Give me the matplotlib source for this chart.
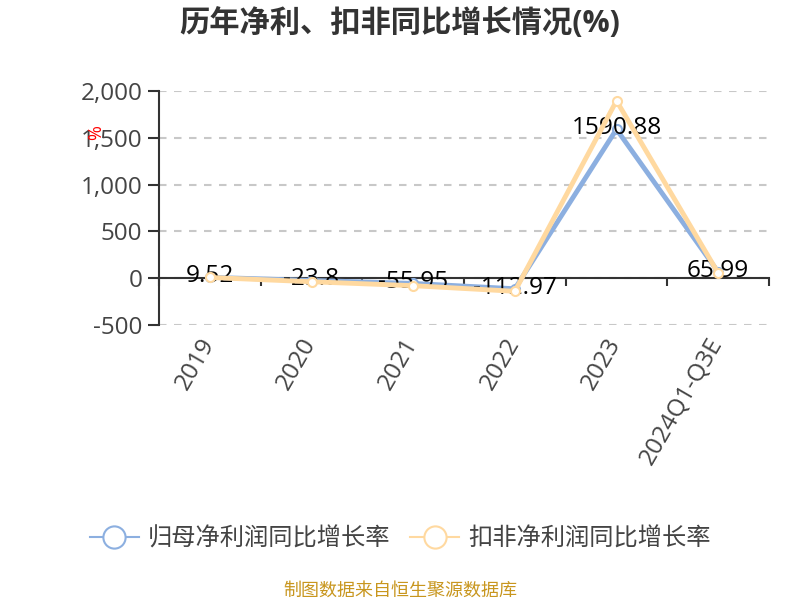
import matplotlib
matplotlib.use("Agg")
import matplotlib.pyplot as plt
from matplotlib.lines import Line2D
from matplotlib.transforms import ScaledTranslation

plt.rcParams['font.family'] = ['Open Sans', 'Noto Sans CJK SC', 'DejaVu Sans']

categories = ['2019', '2020', '2021', '2022', '2023', '2024Q1-Q3E']
net_profit = [9.52, -23.8, -55.95, -112.97, 1590.88, 65.99]
non_recurring = [8, -38, -80, -140, 1895, 55]
y_ticks = [-500, 0, 500, 1000, 1500, 2000]
y_labels = ['-500', '0', '500', '1,000', '1,500', '2,000']

blue = '#8cafe0'
yellow = '#ffd9a0'
dark = '#333333'

fig = plt.figure(figsize=(8, 6), dpi=100)
ax = fig.add_axes([159/800, 1-325/600, 610/800, 234/600])

x = [i + 0.5 for i in range(len(categories))]

ax.plot(x, net_profit, color=blue, lw=3.5, marker='o', ms=6.5, mfc='white', mec=blue, mew=1.5, zorder=3)
for xi, v in zip(x, net_profit):
    ax.annotate(str(v), (xi, v), xytext=(0, 1), textcoords='offset pixels', ha='center', va='center',
                fontsize=17.6, color='black', zorder=4)
ax.plot(x, non_recurring, color=yellow, lw=3.5, marker='o', ms=6.5, mfc='white', mec=yellow, mew=1.5, zorder=5)

ax.set_xlim(0, 6)
ax.set_ylim(-500, 2000)
ax.set_yticks(y_ticks)
ax.set_yticklabels(y_labels, fontsize=17.5, color='#444444')
ax.tick_params(axis='y', length=8, width=1.5, color=dark, pad=4)
ax.grid(axis='y', color='#c8c8c8', ls=(0, (3.6, 3.6)), lw=1.5)
ax.set_axisbelow(True)

for s in ['top', 'right']:
    ax.spines[s].set_visible(False)
ax.spines['left'].set_color(dark)
ax.spines['left'].set_linewidth(1.5)
ax.spines['bottom'].set_position(('data', 0))
ax.spines['bottom'].set_color(dark)
ax.spines['bottom'].set_linewidth(1.5)
ax.set_xticks(range(7))
ax.set_xticklabels([])
ax.tick_params(axis='x', length=6, width=1.5, color=dark)

# category labels sit below the plot, not on the zero line
sec = ax.secondary_xaxis('bottom')
sec.spines['bottom'].set_visible(False)
sec.set_xticks(x)
sec.set_xticklabels(categories, rotation=60, ha='right', rotation_mode='anchor', fontsize=17.5, color='#444444')
sec.tick_params(axis='x', length=0, pad=6)
shift = ScaledTranslation(-11/100, 0, fig.dpi_scale_trans)
for lab in sec.get_xticklabels():
    lab.set_transform(lab.get_transform() + shift)

fig.text(96/800, 1-133/600, '%', color='red', fontsize=13, rotation=90, ha='center', va='center')
fig.text(400/800, 1-24/600, '历年净利、扣非同比增长情况(%)', fontsize=21.8, fontweight='bold',
         color=dark, ha='center', va='center')
fig.text(400/800, 1-591/600, '制图数据来自恒生聚源数据库', fontsize=13, color='#c8961e', ha='center', va='center')

handles = [
    Line2D([], [], color=blue, lw=1.5, marker='o', ms=16, mfc='white', mec=blue, mew=1.5),
    Line2D([], [], color=yellow, lw=1.5, marker='o', ms=16, mfc='white', mec=yellow, mew=1.5),
]
fig.legend(handles, ['归母净利润同比增长率', '扣非净利润同比增长率'], loc='center', bbox_to_anchor=(400.5/800, 1-540/600),
           ncol=2, frameon=False, fontsize=17.5, labelcolor='#444444', handlelength=2.0,
           handletextpad=0.4, columnspacing=0.8)

fig.savefig('out.png', dpi=100)
